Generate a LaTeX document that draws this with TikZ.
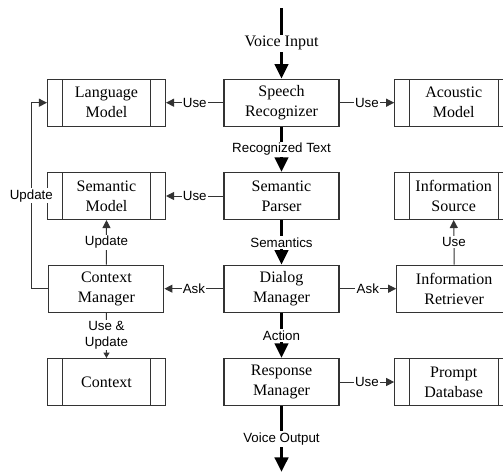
\documentclass[tikz,border=0pt]{standalone}
\usepackage{fontspec}
\setmainfont{Liberation Serif}
\setsansfont{Liberation Sans}
\usetikzlibrary{arrows.meta}
\begin{document}
\begin{tikzpicture}[x=0.75pt,y=-0.75pt,
  proc/.style={draw=black!80,line width=0.8pt,minimum width=86.25pt,minimum height=35.25pt,
    align=center,inner sep=0pt,font=\fontsize{12}{15}\selectfont\rmfamily},
  store/.style={proc,minimum width=88.5pt,
    path picture={
      \draw[black!80,line width=0.8pt] ([xshift=11pt]path picture bounding box.north west) -- ([xshift=11pt]path picture bounding box.south west);
      \draw[black!80,line width=0.8pt] ([xshift=-11pt]path picture bounding box.north east) -- ([xshift=-11pt]path picture bounding box.south east);}},
  flow/.style={line width=2.6pt,black,-{Triangle[length=11pt,width=10pt]}},
  thin/.style={line width=0.75pt,black!80,-{Triangle[length=6pt,width=6pt]}},
  lab/.style={fill=white,inner sep=1pt,font=\fontsize{10}{11.5}\selectfont\sffamily,text=black},
  serlab/.style={fill=white,inner sep=1pt,font=\fontsize{12}{14}\selectfont\rmfamily,text=black}
]
\useasboundingbox (0,0) rectangle (503,471);
\clip (0,0) rectangle (503,471);
% center column
\node[proc] (sr) at (281.5,102.7) {Speech\\Recognizer};
\node[proc] (sp) at (281.5,196) {Semantic\\Parser};
\node[proc] (dm) at (281.5,288.7) {Dialog\\Manager};
\node[proc] (rm) at (281.5,382) {Response\\Manager};
% left column
\node[store] (lm) at (106.5,102.7) {Language\\Model};
\node[store] (sm) at (106.5,196) {Semantic\\Model};
\node[proc] (cm) at (106.4,288.7) {Context\\Manager};
\node[store] (cx) at (106.5,382) {Context};
% right column
\node[store] (am) at (453.7,102.7) {Acoustic\\Model};
\node[store] (is) at (453.7,196) {Information\\Source};
\node[proc] (ir) at (454.2,288.7) {Information\\Retriever};
\node[store] (pd) at (453.7,382) {Prompt\\Database};
% main flow
\coordinate (vin) at (281.5,8);
\coordinate (vout) at (281.5,472);
\draw[flow] (vin) -- (sr.north) node[midway,serlab]{Voice Input};
\draw[flow] (sr.south) -- (sp.north) node[midway,lab]{Recognized Text};
\draw[flow] (sp.south) -- (dm.north) node[midway,lab]{Semantics};
\draw[flow] (dm.south) -- (rm.north) node[midway,lab]{Action};
\draw[flow] (rm.south) -- (vout) node[midway,lab]{Voice Output};
% side connections
\draw[thin] (sr.west) -- (lm.east) node[midway,lab]{Use};
\draw[thin] (sr.east) -- (am.west) node[midway,lab]{Use};
\draw[thin] (sp.west) -- (sm.east) node[midway,lab]{Use};
\draw[thin] (dm.west) -- (cm.east) node[midway,lab]{Ask};
\draw[thin] (dm.east) -- (ir.west) node[midway,lab]{Ask};
\draw[thin] (rm.east) -- (pd.west) node[midway,lab]{Use};
\draw[thin] (ir.north) -- (is.south) node[midway,lab]{Use};
\draw[thin] (cm.north) -- (sm.south) node[midway,lab]{Update};
\draw[line width=0.75pt,black!80,-{Triangle[length=4pt,width=4.5pt]}] (cm.south) -- (cx.north)
  node[midway,lab,align=center]{Use \&\\Update};
\draw[thin] (cm.west) -- ++(-17,0) coordinate (c1) -- (c1 |- lm.west)
  node[pos=0.5,lab]{Update} -- (lm.west);
\end{tikzpicture}
\end{document}
